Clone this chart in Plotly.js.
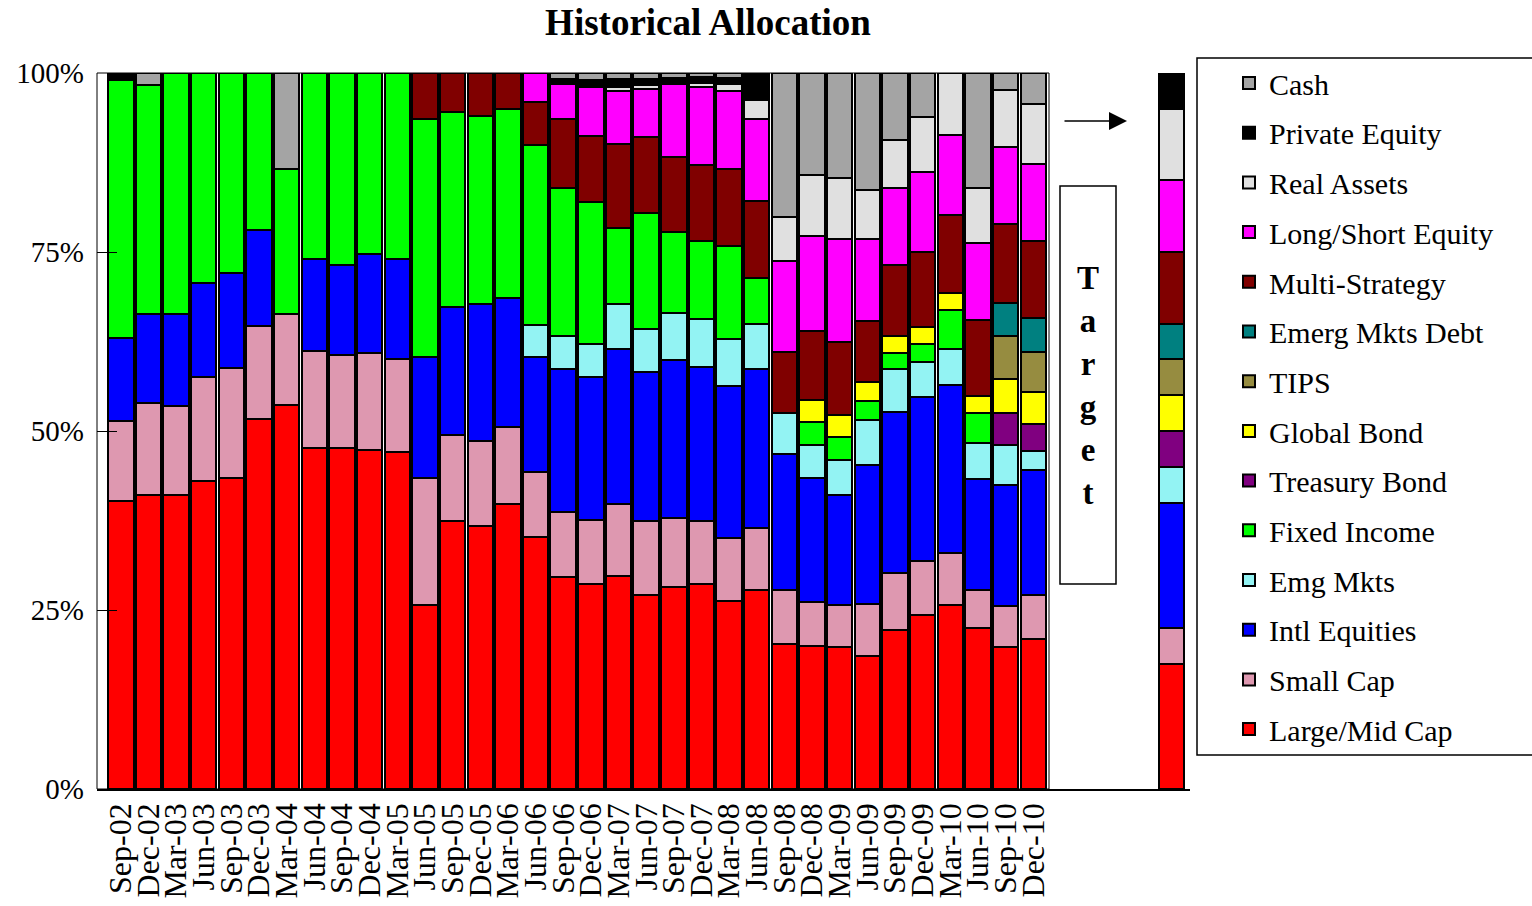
<!DOCTYPE html>
<html>
<head>
<meta charset="utf-8">
<script src="https://cdn.plot.ly/plotly-3.0.1.min.js"></script>
<style>
  html, body { margin: 0; padding: 0; background: #ffffff; }
  #chart { width: 1532px; height: 906px; }
</style>
</head>
<body>
<div id="chart"></div>
<script>
const _ = null;

// Quarter labels (34 historical bars) followed by the target allocation
const dates = ["Sep-02","Dec-02","Mar-03","Jun-03","Sep-03","Dec-03","Mar-04","Jun-04","Sep-04","Dec-04",
               "Mar-05","Jun-05","Sep-05","Dec-05","Mar-06","Jun-06","Sep-06","Dec-06","Mar-07","Jun-07",
               "Sep-07","Dec-07","Mar-08","Jun-08","Sep-08","Dec-08","Mar-09","Jun-09","Sep-09","Dec-09",
               "Mar-10","Jun-10","Sep-10","Dec-10"];
const targetLabel = "Target";

// Allocation (%) per asset class: 34 quarters, last value = Target
const largeMidCap  = [40.2,41.1,41.1,43.0,43.5,51.7,53.7,47.6,47.6,47.4, 47.1,25.7,37.4,36.7,39.8,35.2,29.6,28.7,29.7,27.1, 28.2,28.7,26.2,27.8,20.2,20.0,19.8,18.6,22.2,24.3, 25.7,22.5,19.8,20.9, 17.5];
const smallCap     = [11.2,12.8,12.4,14.5,15.3,13.0,12.6,13.6,13.0,13.5, 13.0,17.8,12.0,11.9,10.7,9.1,9.1,8.9,10.1,10.3, 9.6,8.8,8.8,8.7,7.6,6.1,5.9,7.3,8.0,7.6, 7.3,5.3,5.7,6.2, 5.0];
const intlEquities = [11.6,12.4,12.8,13.2,13.2,13.4,_,12.8,12.6,13.8, 13.9,16.9,17.9,19.2,18.1,16.1,19.9,20.0,21.7,20.9, 22.1,21.4,21.3,22.1,19.0,17.4,15.4,19.4,22.5,22.8, 23.4,15.5,17.0,17.4, 17.5];
const emgMkts      = [_,_,_,_,_,_,_,_,_,_, _,_,_,_,_,4.4,4.6,4.6,6.3,6.0, 6.6,6.7,6.6,6.4,5.7,4.6,4.8,6.3,5.9,5.0, 5.1,5.0,5.6,2.7, 5.0];
const fixedIncome  = [36.0,32.0,33.7,29.3,28.0,21.9,20.3,26.0,26.8,25.3, 26.0,33.2,27.3,26.2,26.4,25.2,20.7,19.8,10.5,16.1, 11.3,10.9,13.0,6.3,_,3.1,3.3,2.6,2.3,2.5, 5.4,4.2,_,_, _];
const treasuryBond = [_,_,_,_,_,_,_,_,_,_, _,_,_,_,_,_,_,_,_,_, _,_,_,_,_,_,_,_,_,_, _,_,4.4,3.8, 5.0];
const globalBond   = [_,_,_,_,_,_,_,_,_,_, _,_,_,_,_,_,_,_,_,_, _,_,_,_,_,3.1,3.0,2.6,2.3,2.3, 2.4,2.4,4.7,4.4, 5.0];
const tips         = [_,_,_,_,_,_,_,_,_,_, _,_,_,_,_,_,_,_,_,_, _,_,_,_,_,_,_,_,_,_, _,_,6.0,5.7, 5.0];
const emergMktsDebt= [_,_,_,_,_,_,_,_,_,_, _,_,_,_,_,_,_,_,_,_, _,_,_,_,_,_,_,_,_,_, _,_,4.7,4.7, 5.0];
const multiStrategy= [_,_,_,_,_,_,_,_,_,_, _,6.4,5.4,6.0,5.0,6.0,9.7,9.2,11.8,10.7, 10.5,10.6,10.7,10.8,8.5,9.7,10.2,8.5,10.0,10.5, 10.9,10.6,11.0,10.7, 10.0];
const longShortEq  = [_,_,_,_,_,_,_,_,_,_, _,_,_,_,_,4.0,4.8,6.8,7.4,6.7, 10.2,10.9,10.9,11.5,12.7,13.3,14.4,11.5,10.7,11.2, 11.2,10.7,10.7,10.8, 10.0];
const realAssets   = [_,_,_,_,_,_,_,_,_,_, _,_,_,_,_,_,_,_,0.6,0.5, _,0.6,0.9,2.6,6.2,8.4,8.5,6.9,6.7,7.6, 8.6,7.8,8.0,8.4, 10.0];
const privateEquity= [1.0,_,_,_,_,_,_,_,_,_, _,_,_,_,_,_,0.8,1.0,1.0,0.9, 0.8,0.8,0.9,3.8,_,_,_,_,_,_, _,_,_,_, 5.0];
const cash         = [_,1.7,_,_,_,_,13.4,_,_,_, _,_,_,_,_,_,0.8,1.0,0.9,0.8, 0.7,0.6,0.7,_,20.1,14.3,14.7,16.3,9.4,6.2, _,16.0,2.4,4.3, _];

// Series in stacking order (bottom -> top)
const seriesNames  = ["Large/Mid Cap","Small Cap","Intl Equities","Emg Mkts","Fixed Income","Treasury Bond",
                      "Global Bond","TIPS","Emerg Mkts Debt","Multi-Strategy","Long/Short Equity",
                      "Real Assets","Private Equity","Cash"];
const seriesValues = [largeMidCap, smallCap, intlEquities, emgMkts, fixedIncome, treasuryBond,
                      globalBond, tips, emergMktsDebt, multiStrategy, longShortEq,
                      realAssets, privateEquity, cash];
const seriesColors = ["#FF0000","#DE98B0","#0000FF","#93F3F3","#00FF00","#800080",
                      "#FFFF00","#968C40","#008080","#800000","#FF00FF",
                      "#E0E0E0","#000000","#A4A4A4"];

// Layout: the target bar sits a few empty slots after the last quarter
const TARGET_GAP = 4;
const xPositions = dates.map((d, i) => i).concat([dates.length - 1 + TARGET_GAP + 1]);
const xLabels = dates.concat([targetLabel]);

const FONT = "Liberation Serif, Times New Roman, serif";

const traces = seriesNames.map((name, k) => ({
  type: "bar",
  name: name,
  x: xPositions,
  y: seriesValues[k],
  customdata: xLabels,
  width: 0.92,
  marker: { color: seriesColors[k], line: { color: "#000000", width: 2 } },
  legendrank: seriesNames.length - k,
  legendgroup: name,
  hoverinfo: "skip"
}));

// pixel helpers for annotations/decorations (plot area 97..1190 x 73..789)
const PL = 97, PR = 1190, PT = 73, PB = 789;
const px = v => (v - PL) / (PR - PL);
const py = v => (PB - v) / (PB - PT);

const layout = {
  width: 1532,
  height: 906,
  margin: { l: PL, r: 1532 - PR, t: PT, b: 906 - PB, autoexpand: false },
  paper_bgcolor: "#ffffff",
  plot_bgcolor: "#ffffff",
  barmode: "stack",
  bargap: 0,
  showlegend: true,
  font: { family: FONT, color: "#000000" },
  title: {
    text: "<b>Historical Allocation</b>",
    font: { family: FONT, size: 37, color: "#000000" },
    x: 708 / 1532, xanchor: "center", xref: "container",
    y: 1 - 22 / 906, yanchor: "middle", yref: "container"
  },
  xaxis: {
    type: "linear",
    range: [-0.861, 38.67],
    tickmode: "array",
    tickvals: xPositions.slice(0, dates.length),
    ticktext: dates,
    tickangle: -90,
    tickfont: { family: FONT, size: 32, color: "#000000" },
    ticks: "",
    showgrid: false,
    zeroline: false,
    showline: true,
    linecolor: "#000000",
    linewidth: 1.5,
    automargin: false,
    fixedrange: true
  },
  yaxis: {
    range: [0, 100],
    tickmode: "array",
    tickvals: [0, 25, 50, 75, 100],
    ticktext: ["0%", "25%", "50%", "75%", "100%"],
    tickfont: { family: FONT, size: 29, color: "#000000" },
    ticks: "inside",
    ticklen: 20,
    tickwidth: 1,
    tickcolor: "#000000",
    ticklabelstandoff: 12,
    showgrid: false,
    zeroline: false,
    showline: false,
    automargin: false,
    fixedrange: true,
    layer: "above traces"
  },
  legend: {
    x: px(1229), xanchor: "left",
    y: py(57), yanchor: "top",
    traceorder: "grouped",
    tracegroupgap: 7.7,
    maxheight: 1,
    bgcolor: "rgba(0,0,0,0)",
    borderwidth: 0,
    font: { family: FONT, size: 30, color: "#000000" }
  },
  shapes: [
    // frame around the historical bars
    { type: "rect", xref: "paper", yref: "paper", x0: 0, x1: px(1049), y0: 0, y1: 1,
      line: { color: "#000000", width: 1 }, layer: "above" },
    // "Target" label box
    { type: "rect", xref: "paper", yref: "paper", x0: px(1060), x1: px(1116), y0: py(584), y1: py(186),
      line: { color: "#000000", width: 1.5 }, fillcolor: "#ffffff" },
    // legend frame
    { type: "rect", xref: "paper", yref: "paper", x0: px(1197), x1: px(1545), y0: py(755), y1: py(58),
      line: { color: "#000000", width: 1.5 } }
  ],
  annotations: [
    { xref: "paper", yref: "paper", x: px(1088), y: py(385), xanchor: "center", yanchor: "middle",
      text: "<b>T<br>a<br>r<br>g<br>e<br>t</b>", showarrow: false,
      font: { family: FONT, size: 33, color: "#000000" } },
    { xref: "paper", yref: "paper", x: px(1127), y: py(121), text: "", showarrow: true,
      ax: -64, ay: 0, arrowhead: 2, arrowsize: 2.4, arrowwidth: 1.5, arrowcolor: "#000000" }
  ]
};

Plotly.newPlot("chart", traces, layout, { displayModeBar: false, staticPlot: true });
</script>
</body>
</html>
